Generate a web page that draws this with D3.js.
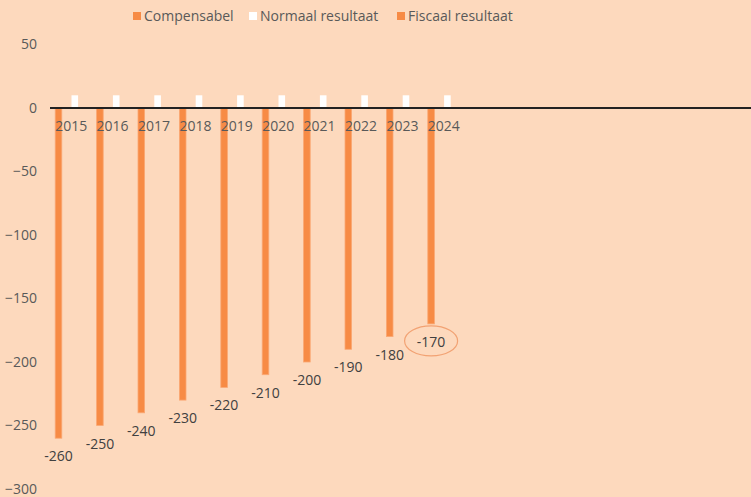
<!DOCTYPE html>
<html><head><meta charset="utf-8">
<script src="https://cdn.jsdelivr.net/npm/d3@7"></script>
<style>
html,body{margin:0;padding:0;background:#FDD9BD;}
svg{display:block;font-family:"Open Sans",sans-serif;}
</style></head>
<body>
<script>
const years = ["2015","2016","2017","2018","2019","2020","2021","2022","2023","2024"];
const compensabel = [-260,-250,-240,-230,-220,-210,-200,-190,-180,-170];
const normaal = [10,10,10,10,10,10,10,10,10,10];
const fiscaal = [0,0,0,0,0,0,0,0,0,0];
const seriesNames = ["Compensabel","Normaal resultaat","Fiscaal resultaat"];
const seriesColors = ["#F78B45","#FFFFFF","#F78B45"];
const yTicks = [50,0,-50,-100,-150,-200,-250,-300];
const extraSlots = ["e1","e2","e3","e4","e5","e6","e7"];
const highlightYear = "2024";

const W = 751, H = 497;
const svg = d3.select("body").append("svg").attr("width", W).attr("height", H);
svg.append("rect").attr("width", W).attr("height", H).attr("fill", "#FDD9BD");

const y = d3.scaleLinear().domain([-300, 50]).range([489, 44.5]);
const x = d3.scaleBand().domain(years.concat(extraSlots)).range([54, 54 + 17 * 41.4]).paddingInner(0).paddingOuter(0);
const inner = d3.scaleBand().domain(seriesNames).range([-3.65, -3.65 + 3 * 16.3]).paddingInner(0).paddingOuter(0);
const bw = 6.6;

// y axis labels
const yAxis = d3.axisLeft(y).tickValues(yTicks).tickSize(0).tickPadding(0);
const gy = svg.append("g").attr("transform", "translate(37,0)").call(yAxis);
gy.select(".domain").remove();
gy.selectAll("text").attr("fill", "#595959").style("font-size", "14px").style("font-family", "'Open Sans',sans-serif");

// bars
const data = years.map((yr, i) => ({yr, vals: [compensabel[i], normaal[i], fiscaal[i]]}));
const groups = svg.append("g").selectAll("g").data(data).join("g")
  .attr("transform", d => `translate(${x(d.yr)},0)`);
groups.selectAll("rect").data(d => d.vals.map((v, k) => ({v, k})).filter(o => o.v !== 0)).join("rect")
  .attr("x", o => inner(seriesNames[o.k]) + inner.bandwidth() / 2 - bw / 2)
  .attr("width", bw)
  .attr("y", o => Math.min(y(o.v), y(0)))
  .attr("height", o => Math.abs(y(o.v) - y(0)))
  .attr("fill", o => seriesColors[o.k])
  .attr("stroke", o => o.k === 1 ? "none" : "#FBA874")
  .attr("stroke-width", 0.8);

// zero line
svg.append("line").attr("x1", 50).attr("x2", W).attr("y1", y(0)).attr("y2", y(0))
  .attr("stroke", "#222").attr("stroke-width", 2);

// year labels (start at compensabel bar left)
groups.append("text")
  .attr("x", d => inner(seriesNames[0]) + inner.bandwidth() / 2 - bw / 2)
  .attr("y", y(0) + 23)
  .attr("fill", "#595959").style("font-size", "14px")
  .text(d => d.yr);

// data labels
groups.append("text")
  .attr("x", d => inner(seriesNames[0]) + inner.bandwidth() / 2)
  .attr("y", d => y(d.vals[0]) + 23)
  .attr("text-anchor", "middle")
  .attr("fill", "#404040").style("font-size", "14px")
  .text(d => d.vals[0]);

// highlight ellipse
const hd = data.find(d => d.yr === highlightYear);
svg.append("ellipse")
  .attr("cx", x(hd.yr) + inner(seriesNames[0]) + inner.bandwidth() / 2)
  .attr("cy", y(hd.vals[0]) + 17)
  .attr("rx", 26.5).attr("ry", 15)
  .attr("fill", "none").attr("stroke", "#F2A273").attr("stroke-width", 1.2);

// legend
const legendX = [133, 249, 397];
const lg = svg.append("g").selectAll("g").data(seriesNames).join("g")
  .attr("transform", (d, i) => `translate(${legendX[i]},12)`);
lg.append("rect").attr("width", 8).attr("height", 8).attr("fill", (d, i) => seriesColors[i]);
lg.append("text").attr("x", 11).attr("y", 9).attr("fill", "#595959").style("font-size", "14px").text(d => d);
</script>
</body></html>
